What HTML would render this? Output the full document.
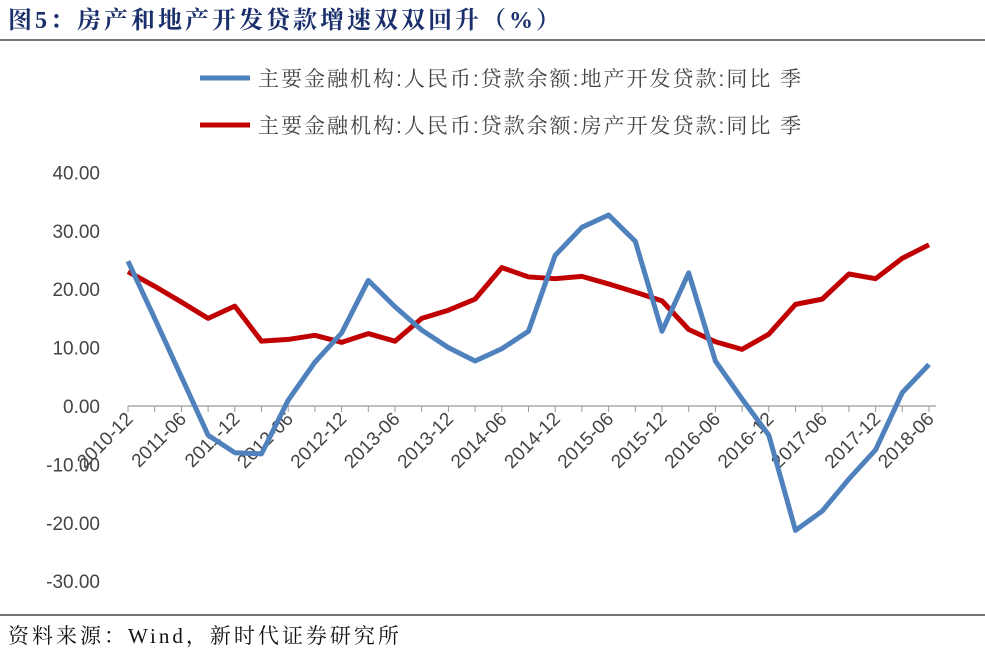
<!DOCTYPE html>
<html><head><meta charset="utf-8"><style>
body{margin:0;background:#fff;width:985px;height:655px;overflow:hidden;font-family:"Liberation Serif","Noto Serif CJK SC",serif}
</style></head><body>
<svg width="985" height="655" xmlns="http://www.w3.org/2000/svg">
<text x="8" y="28" font-size="24" letter-spacing="3" font-weight="bold" fill="#1a2f6b" font-family="Liberation Serif, Noto Serif CJK SC, serif">图5：房产和地产开发贷款增速双双回升（%）</text>
<line x1="0" y1="40" x2="985" y2="40" stroke="#222" stroke-width="1.2"/>
<line x1="0" y1="615" x2="985" y2="615" stroke="#222" stroke-width="1.2"/>
<text x="8" y="643" font-size="21" letter-spacing="3" fill="#111">资料来源：Wind，新时代证券研究所</text>
<g>
<line x1="200" y1="78" x2="250" y2="78" stroke="#4f81bd" stroke-width="5"/>
<text x="258" y="86" font-size="21" letter-spacing="2" fill="#444" font-family="Liberation Sans, Noto Serif CJK SC, serif">主要金融机构:人民币:贷款余额:地产开发贷款:同比 季</text>
<line x1="200" y1="125" x2="250" y2="125" stroke="#c00000" stroke-width="5"/>
<text x="258" y="133" font-size="21" letter-spacing="2" fill="#444" font-family="Liberation Sans, Noto Serif CJK SC, serif">主要金融机构:人民币:贷款余额:房产开发贷款:同比 季</text>
</g>
<g id="plot"></g>
</svg>
<script>
const categories=["2010-12","2011-03","2011-06","2011-09","2011-12","2012-03","2012-06","2012-09","2012-12","2013-03","2013-06","2013-09","2013-12","2014-03","2014-06","2014-09","2014-12","2015-03","2015-06","2015-09","2015-12","2016-03","2016-06","2016-09","2016-12","2017-03","2017-06","2017-09","2017-12","2018-03","2018-06"];
const landLoans=[24.8,15,5,-5,-8,-8.2,1,7.5,12.5,21.5,17,13,10,7.7,9.8,12.8,25.8,30.6,32.7,28.2,12.8,22.8,7.7,1.2,-5,-21.3,-18,-12.5,-7.5,2.3,7.1];
const propertyLoans=[23,20.5,17.8,15,17.1,11.1,11.4,12.1,10.9,12.4,11.1,15,16.4,18.3,23.7,22.1,21.8,22.2,20.9,19.5,18,13.1,11,9.7,12.3,17.4,18.3,22.6,21.8,25.3,27.6];
const yTicks=[40,30,20,10,0,-10,-20,-30];
const NS="http://www.w3.org/2000/svg";
const g=document.getElementById('plot');
const x=i=>128+i*(929-128)/(categories.length-1);
const y=v=>406-v*5.84;
function mk(t,a){const e=document.createElementNS(NS,t);for(const k in a)e.setAttribute(k,a[k]);g.appendChild(e);return e;}
yTicks.forEach(v=>{const t=mk('text',{x:100,y:y(v)+7,'text-anchor':'end','font-size':19,fill:'#444','font-family':'Liberation Sans, sans-serif'});t.textContent=v.toFixed(2);

});
const ax=mk('line',{x1:128,y1:y(0),x2:936,y2:y(0),stroke:'#999','stroke-width':1.2});


categories.forEach((c,i)=>{const tk=mk('line',{x1:x(i),y1:y(0),x2:x(i),y2:y(0)+6,stroke:'#999','stroke-width':1});


if(i%2===0){const t=mk('text',{x:x(i)+6,y:y(0)+14,'text-anchor':'end','font-size':19,fill:'#444','font-family':'Liberation Sans, sans-serif',transform:`rotate(-45 ${x(i)+6} ${y(0)+14})`});t.textContent=c;

}});
function line(data,color,name){const p=mk('polyline',{points:data.map((v,i)=>x(i)+','+y(v)).join(' '),fill:'none',stroke:color,'stroke-width':5,'stroke-linejoin':'round'});

}
line(propertyLoans,'#c00000','property-loans-line');
line(landLoans,'#4f81bd','land-loans-line');
</script>
</body></html>
